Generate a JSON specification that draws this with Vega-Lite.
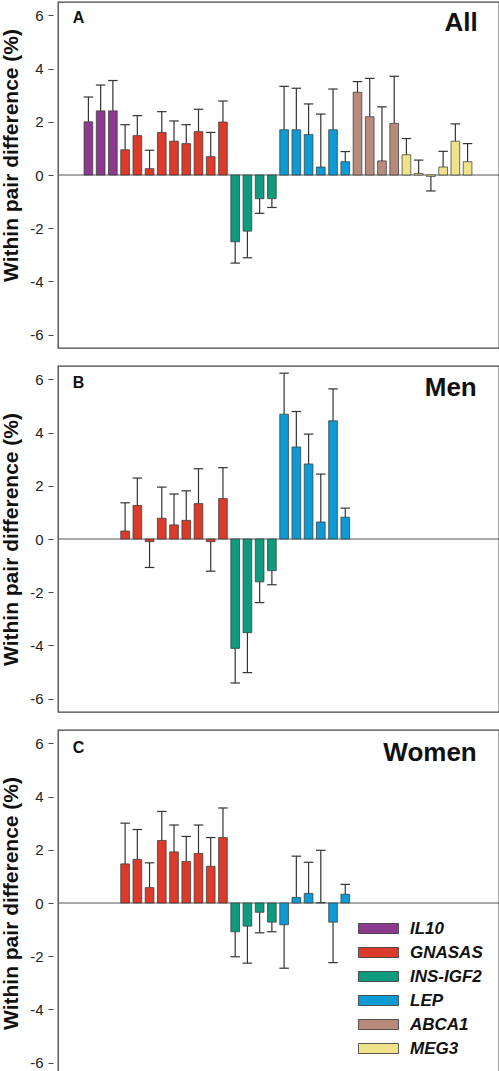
{
  "$schema": "https://vega.github.io/schema/vega-lite/v6.json",
  "padding": {"left": 0, "top": 1, "right": 0, "bottom": 0},
  "config": {
    "font": "Liberation Sans",
    "view": {"stroke": "#444", "strokeWidth": 1.3},
    "concat": {"spacing": 16},
    "axisY": {
      "offset": 5, "domain": false, "grid": false, "tickSize": 5, "tickColor": "#444", "tickWidth": 1,
      "labelPadding": 5, "labelFontSize": 15, "labelColor": "#222", "values": [-6, -4, -2, 0, 2, 4, 6],
      "titleFontSize": 21, "titleFontWeight": "bold", "titleColor": "#111", "titlePadding": 8
    }
  },
  "datasets": {
    "one": [{}],
    "bars": [
      {"p": "A", "i": 1, "g": "IL10", "v": 2.0, "e": 2.93},
      {"p": "A", "i": 2, "g": "IL10", "v": 2.41, "e": 3.38},
      {"p": "A", "i": 3, "g": "IL10", "v": 2.41, "e": 3.55},
      {"p": "A", "i": 4, "g": "GNASAS", "v": 0.95, "e": 1.89},
      {"p": "A", "i": 5, "g": "GNASAS", "v": 1.48, "e": 2.23},
      {"p": "A", "i": 6, "g": "GNASAS", "v": 0.24, "e": 0.93},
      {"p": "A", "i": 7, "g": "GNASAS", "v": 1.6, "e": 2.38},
      {"p": "A", "i": 8, "g": "GNASAS", "v": 1.27, "e": 2.03},
      {"p": "A", "i": 9, "g": "GNASAS", "v": 1.18, "e": 1.89},
      {"p": "A", "i": 10, "g": "GNASAS", "v": 1.63, "e": 2.47},
      {"p": "A", "i": 11, "g": "GNASAS", "v": 0.69, "e": 1.6},
      {"p": "A", "i": 12, "g": "GNASAS", "v": 1.99, "e": 2.78},
      {"p": "A", "i": 13, "g": "INS-IGF2", "v": -2.51, "e": -3.31},
      {"p": "A", "i": 14, "g": "INS-IGF2", "v": -2.11, "e": -3.11},
      {"p": "A", "i": 15, "g": "INS-IGF2", "v": -0.89, "e": -1.44},
      {"p": "A", "i": 16, "g": "INS-IGF2", "v": -0.89, "e": -1.22},
      {"p": "A", "i": 17, "g": "LEP", "v": 1.7, "e": 3.33},
      {"p": "A", "i": 18, "g": "LEP", "v": 1.7, "e": 3.26},
      {"p": "A", "i": 19, "g": "LEP", "v": 1.52, "e": 2.67},
      {"p": "A", "i": 20, "g": "LEP", "v": 0.3, "e": 2.29},
      {"p": "A", "i": 21, "g": "LEP", "v": 1.7, "e": 3.23},
      {"p": "A", "i": 22, "g": "LEP", "v": 0.5, "e": 0.88},
      {"p": "A", "i": 23, "g": "ABCA1", "v": 3.11, "e": 3.51},
      {"p": "A", "i": 24, "g": "ABCA1", "v": 2.19, "e": 3.63},
      {"p": "A", "i": 25, "g": "ABCA1", "v": 0.53, "e": 2.56},
      {"p": "A", "i": 26, "g": "ABCA1", "v": 1.94, "e": 3.71},
      {"p": "A", "i": 27, "g": "MEG3", "v": 0.76, "e": 1.37},
      {"p": "A", "i": 28, "g": "MEG3", "v": 0.06, "e": 0.56},
      {"p": "A", "i": 29, "g": "MEG3", "v": -0.06, "e": -0.6},
      {"p": "A", "i": 30, "g": "MEG3", "v": 0.3, "e": 0.89},
      {"p": "A", "i": 31, "g": "MEG3", "v": 1.27, "e": 1.92},
      {"p": "A", "i": 32, "g": "MEG3", "v": 0.5, "e": 1.18},
      {"p": "B", "i": 4, "g": "GNASAS", "v": 0.3, "e": 1.36},
      {"p": "B", "i": 5, "g": "GNASAS", "v": 1.26, "e": 2.29},
      {"p": "B", "i": 6, "g": "GNASAS", "v": -0.1, "e": -1.07},
      {"p": "B", "i": 7, "g": "GNASAS", "v": 0.78, "e": 1.95},
      {"p": "B", "i": 8, "g": "GNASAS", "v": 0.53, "e": 1.69},
      {"p": "B", "i": 9, "g": "GNASAS", "v": 0.7, "e": 1.81},
      {"p": "B", "i": 10, "g": "GNASAS", "v": 1.33, "e": 2.64},
      {"p": "B", "i": 11, "g": "GNASAS", "v": -0.1, "e": -1.21},
      {"p": "B", "i": 12, "g": "GNASAS", "v": 1.52, "e": 2.68},
      {"p": "B", "i": 13, "g": "INS-IGF2", "v": -4.11, "e": -5.41},
      {"p": "B", "i": 14, "g": "INS-IGF2", "v": -3.52, "e": -5.02},
      {"p": "B", "i": 15, "g": "INS-IGF2", "v": -1.61, "e": -2.39},
      {"p": "B", "i": 16, "g": "INS-IGF2", "v": -1.19, "e": -1.72},
      {"p": "B", "i": 17, "g": "LEP", "v": 4.69, "e": 6.23},
      {"p": "B", "i": 18, "g": "LEP", "v": 3.46, "e": 4.79},
      {"p": "B", "i": 19, "g": "LEP", "v": 2.82, "e": 3.94},
      {"p": "B", "i": 20, "g": "LEP", "v": 0.64, "e": 2.44},
      {"p": "B", "i": 21, "g": "LEP", "v": 4.44, "e": 5.64},
      {"p": "B", "i": 22, "g": "LEP", "v": 0.82, "e": 1.16},
      {"p": "C", "i": 4, "g": "GNASAS", "v": 1.47, "e": 3.0},
      {"p": "C", "i": 5, "g": "GNASAS", "v": 1.64, "e": 2.76},
      {"p": "C", "i": 6, "g": "GNASAS", "v": 0.58, "e": 1.51},
      {"p": "C", "i": 7, "g": "GNASAS", "v": 2.35, "e": 3.44},
      {"p": "C", "i": 8, "g": "GNASAS", "v": 1.92, "e": 2.93},
      {"p": "C", "i": 9, "g": "GNASAS", "v": 1.56, "e": 2.5},
      {"p": "C", "i": 10, "g": "GNASAS", "v": 1.86, "e": 2.93},
      {"p": "C", "i": 11, "g": "GNASAS", "v": 1.38, "e": 2.46},
      {"p": "C", "i": 12, "g": "GNASAS", "v": 2.46, "e": 3.57},
      {"p": "C", "i": 13, "g": "INS-IGF2", "v": -1.08, "e": -2.02},
      {"p": "C", "i": 14, "g": "INS-IGF2", "v": -0.87, "e": -2.26},
      {"p": "C", "i": 15, "g": "INS-IGF2", "v": -0.35, "e": -1.12},
      {"p": "C", "i": 16, "g": "INS-IGF2", "v": -0.72, "e": -1.08},
      {"p": "C", "i": 17, "g": "LEP", "v": -0.82, "e": -2.45},
      {"p": "C", "i": 18, "g": "LEP", "v": 0.21, "e": 1.76},
      {"p": "C", "i": 19, "g": "LEP", "v": 0.36, "e": 1.53},
      {"p": "C", "i": 20, "g": "LEP", "v": 0.02, "e": 1.98},
      {"p": "C", "i": 21, "g": "LEP", "v": -0.72, "e": -2.24},
      {"p": "C", "i": 22, "g": "LEP", "v": 0.33, "e": 0.7}
    ]
  },
  "resolve": {"scale": {"color": "independent"}},
  "vconcat": [
    {
      "width": 441, "height": 346,
      "layer": [
        {"data": {"name": "one"}, "mark": {"type": "rule", "color": "#555", "strokeWidth": 1},
          "encoding": {"y": {"datum": 0, "type": "quantitative", "title": "Within pair difference (%)", "scale": {"domain": [-6.5, 6.5], "nice": false}, "axis": {"labelExpr": "replace(datum.label, '−', '-')", "titleY": 153}}}},
        {"data": {"name": "bars"}, "transform": [{"filter": "datum.p === 'A'"}],
          "mark": {"type": "bar", "size": 8.7, "stroke": "#333", "strokeWidth": 0.7},
          "encoding": {
            "x": {"field": "i", "type": "quantitative", "scale": {"domain": [-1.077, 34.16], "nice": false, "zero": false}, "axis": null},
            "y": {"field": "v", "type": "quantitative", "title": "Within pair difference (%)", "axis": {"labelExpr": "replace(datum.label, '−', '-')", "titleY": 153}},
            "y2": {"datum": 0},
            "color": {"field": "g", "type": "nominal", "legend": null,
              "scale": {"domain": ["IL10", "GNASAS", "INS-IGF2", "LEP", "ABCA1", "MEG3"], "range": ["#8B3A8E", "#DA3B2A", "#0E9B7D", "#0E9AD3", "#B88A7B", "#EEE38A"]}}
          }},
        {"data": {"name": "bars"}, "transform": [{"filter": "datum.p === 'A'"}],
          "mark": {"type": "rule", "color": "#333", "strokeWidth": 1.2},
          "encoding": {"x": {"field": "i", "type": "quantitative"}, "y": {"field": "v", "type": "quantitative", "title": "Within pair difference (%)"}, "y2": {"field": "e"}}},
        {"data": {"name": "bars"}, "transform": [{"filter": "datum.p === 'A'"}],
          "mark": {"type": "tick", "orient": "horizontal", "size": 9.5, "thickness": 1.2, "color": "#333", "opacity": 1},
          "encoding": {"x": {"field": "i", "type": "quantitative"}, "y": {"field": "e", "type": "quantitative", "title": "Within pair difference (%)"}}},
        {"data": {"name": "one"}, "mark": {"type": "text", "text": "A", "fontSize": 16, "fontWeight": "bold", "align": "left", "baseline": "alphabetic", "color": "#111"},
          "encoding": {"x": {"datum": -0.28}, "y": {"datum": 5.72}}},
        {"data": {"name": "one"}, "mark": {"type": "text", "text": "All", "fontSize": 26, "fontWeight": "bold", "align": "right", "baseline": "alphabetic", "color": "#111"},
          "encoding": {"x": {"datum": 32.83}, "y": {"datum": 5.4}}}
      ]
    },
    {
      "width": 441, "height": 346,
      "layer": [
        {"data": {"name": "one"}, "mark": {"type": "rule", "color": "#555", "strokeWidth": 1},
          "encoding": {"y": {"datum": 0, "type": "quantitative", "title": "Within pair difference (%)", "scale": {"domain": [-6.5, 6.5], "nice": false}, "axis": {"labelExpr": "replace(datum.label, '−', '-')"}}}},
        {"data": {"name": "bars"}, "transform": [{"filter": "datum.p === 'B'"}],
          "mark": {"type": "bar", "size": 8.7, "stroke": "#333", "strokeWidth": 0.7},
          "encoding": {
            "x": {"field": "i", "type": "quantitative", "scale": {"domain": [-1.077, 34.16], "nice": false, "zero": false}, "axis": null},
            "y": {"field": "v", "type": "quantitative", "title": "Within pair difference (%)", "axis": {"labelExpr": "replace(datum.label, '−', '-')"}},
            "y2": {"datum": 0},
            "color": {"field": "g", "type": "nominal", "legend": null,
              "scale": {"domain": ["IL10", "GNASAS", "INS-IGF2", "LEP", "ABCA1", "MEG3"], "range": ["#8B3A8E", "#DA3B2A", "#0E9B7D", "#0E9AD3", "#B88A7B", "#EEE38A"]}}
          }},
        {"data": {"name": "bars"}, "transform": [{"filter": "datum.p === 'B'"}],
          "mark": {"type": "rule", "color": "#333", "strokeWidth": 1.2},
          "encoding": {"x": {"field": "i", "type": "quantitative"}, "y": {"field": "v", "type": "quantitative", "title": "Within pair difference (%)"}, "y2": {"field": "e"}}},
        {"data": {"name": "bars"}, "transform": [{"filter": "datum.p === 'B'"}],
          "mark": {"type": "tick", "orient": "horizontal", "size": 9.5, "thickness": 1.2, "color": "#333", "opacity": 1},
          "encoding": {"x": {"field": "i", "type": "quantitative"}, "y": {"field": "e", "type": "quantitative", "title": "Within pair difference (%)"}}},
        {"data": {"name": "one"}, "mark": {"type": "text", "text": "B", "fontSize": 16, "fontWeight": "bold", "align": "left", "baseline": "alphabetic", "color": "#111"},
          "encoding": {"x": {"datum": -0.28}, "y": {"datum": 5.66}}},
        {"data": {"name": "one"}, "mark": {"type": "text", "text": "Men", "fontSize": 26, "fontWeight": "bold", "align": "right", "baseline": "alphabetic", "color": "#111"},
          "encoding": {"x": {"datum": 32.75}, "y": {"datum": 5.38}}}
      ]
    },
    {
      "width": 441, "height": 346,
      "layer": [
        {"data": {"name": "one"}, "mark": {"type": "rule", "color": "#555", "strokeWidth": 1},
          "encoding": {"y": {"datum": 0, "type": "quantitative", "title": "Within pair difference (%)", "scale": {"domain": [-6.5, 6.5], "nice": false}, "axis": {"labelExpr": "replace(datum.label, '−', '-')"}}}},
        {"data": {"name": "bars"}, "transform": [{"filter": "datum.p === 'C'"}],
          "mark": {"type": "bar", "size": 8.7, "stroke": "#333", "strokeWidth": 0.7},
          "encoding": {
            "x": {"field": "i", "type": "quantitative", "scale": {"domain": [-1.077, 34.16], "nice": false, "zero": false}, "axis": null},
            "y": {"field": "v", "type": "quantitative", "title": "Within pair difference (%)", "axis": {"labelExpr": "replace(datum.label, '−', '-')"}},
            "y2": {"datum": 0},
            "color": {"field": "g", "type": "nominal",
              "scale": {"domain": ["IL10", "GNASAS", "INS-IGF2", "LEP", "ABCA1", "MEG3"], "range": ["#8B3A8E", "#DA3B2A", "#0E9B7D", "#0E9AD3", "#B88A7B", "#EEE38A"]},
              "legend": {"orient": "none", "legendX": 312, "legendY": 190, "title": null, "padding": 0,
                "symbolType": "M-4,-1H4V1H-4Z", "symbolSize": 100, "symbolStrokeColor": "#333", "symbolStrokeWidth": 0.8, "symbolOpacity": 1,
                "labelFontSize": 17, "labelFontWeight": "bold", "labelFontStyle": "italic", "labelColor": "#111", "labelOffset": 23, "rowPadding": 6}}
          }},
        {"data": {"name": "bars"}, "transform": [{"filter": "datum.p === 'C'"}],
          "mark": {"type": "rule", "color": "#333", "strokeWidth": 1.2},
          "encoding": {"x": {"field": "i", "type": "quantitative"}, "y": {"field": "v", "type": "quantitative", "title": "Within pair difference (%)"}, "y2": {"field": "e"}}},
        {"data": {"name": "bars"}, "transform": [{"filter": "datum.p === 'C'"}],
          "mark": {"type": "tick", "orient": "horizontal", "size": 9.5, "thickness": 1.2, "color": "#333", "opacity": 1},
          "encoding": {"x": {"field": "i", "type": "quantitative"}, "y": {"field": "e", "type": "quantitative", "title": "Within pair difference (%)"}}},
        {"data": {"name": "one"}, "mark": {"type": "text", "text": "C", "fontSize": 16, "fontWeight": "bold", "align": "left", "baseline": "alphabetic", "color": "#111"},
          "encoding": {"x": {"datum": -0.28}, "y": {"datum": 5.62}}},
        {"data": {"name": "one"}, "mark": {"type": "text", "text": "Women", "fontSize": 26, "fontWeight": "bold", "align": "right", "baseline": "alphabetic", "color": "#111"},
          "encoding": {"x": {"datum": 32.75}, "y": {"datum": 5.33}}}
      ]
    }
  ]
}
